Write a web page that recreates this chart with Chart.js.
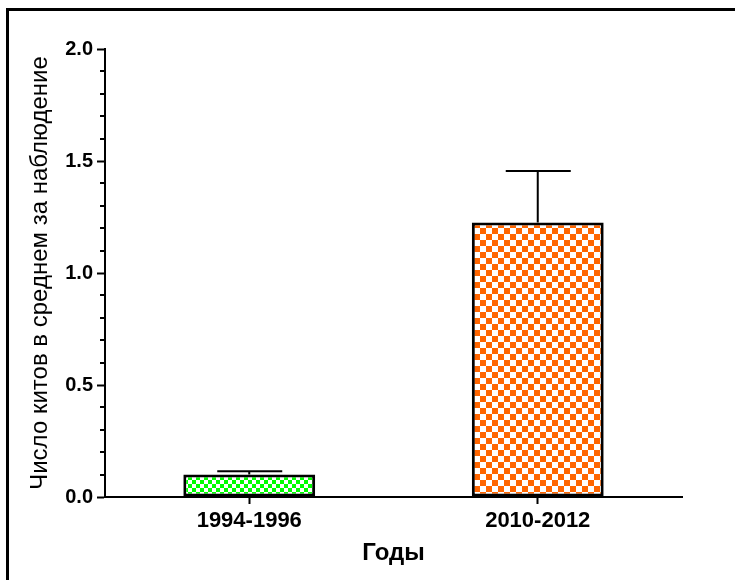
<!DOCTYPE html>
<html>
<head>
<meta charset="utf-8">
<script src="https://cdn.jsdelivr.net/npm/chart.js@4.4.0/dist/chart.umd.min.js"></script>
<style>
    html, body { margin: 0; padding: 0; background: #fff; }
    #wrap { width: 735px; height: 580px; }
</style>
</head>
<body>
<div id="wrap"><canvas id="whaleChart" width="735" height="580"></canvas></div>
<script>
// Data
const periods = ['1994-1996', '2010-2012'];
const meanWhales = [0.1, 1.225];
const upperError = [0.115, 1.455];
const yTickLabels = ['0.0', '0.5', '1.0', '1.5', '2.0'];

const FONT = "'Liberation Sans', Arial, sans-serif";

// checkerboard fill for the bars
function checker(color, cell) {
    const c = document.createElement('canvas');
    c.width = cell * 2;
    c.height = cell * 2;
    const g = c.getContext('2d');
    g.fillStyle = '#ffffff';
    g.fillRect(0, 0, cell * 2, cell * 2);
    g.fillStyle = color;
    g.fillRect(0, 0, cell, cell);
    g.fillRect(cell, cell, cell, cell);
    return g.createPattern(c, 'repeat');
}

const frame = {
    id: 'frame',
    beforeDraw(chart) {
        const ctx = chart.ctx;
        ctx.save();
        ctx.fillStyle = '#fff';
        ctx.fillRect(0, 0, chart.width, chart.height);
        ctx.strokeStyle = '#000';
        ctx.lineWidth = 3;
        ctx.strokeRect(7.5, 9.5, chart.width + 20, chart.height + 20);
        ctx.restore();
    }
};

// minor ticks on y axis (every 0.1 without a label)
const minorTicks = {
    id: 'minorTicks',
    afterDraw(chart) {
        const y = chart.scales.y;
        const ctx = chart.ctx;
        ctx.save();
        ctx.strokeStyle = '#000';
        ctx.lineWidth = 2;
        y.ticks.forEach((t, i) => {
            if (t.label !== '') return;
            const py = Math.round(y.getPixelForTick(i));
            ctx.beginPath();
            ctx.moveTo(y.right - 5, py);
            ctx.lineTo(y.right, py);
            ctx.stroke();
        });
        ctx.restore();
    }
};

const errorBars = {
    id: 'errorBars',
    afterDatasetsDraw(chart) {
        const ctx = chart.ctx;
        const y = chart.scales.y;
        const meta = chart.getDatasetMeta(0);
        ctx.save();
        ctx.strokeStyle = '#000';
        ctx.lineWidth = 2;
        meta.data.forEach((bar, i) => {
            const top = y.getPixelForValue(upperError[i]);
            ctx.beginPath();
            ctx.moveTo(bar.x, bar.y);
            ctx.lineTo(bar.x, top);
            ctx.moveTo(bar.x - 32, top);
            ctx.lineTo(bar.x + 33, top);
            ctx.stroke();
        });
        ctx.restore();
    }
};

new Chart(document.getElementById('whaleChart'), {
    type: 'bar',
    data: {
        labels: periods,
        datasets: [{
            data: meanWhales,
            backgroundColor: [checker('#00ff00', 4), checker('#ff6600', 6)],
            borderColor: '#000',
            borderWidth: 3,
            borderSkipped: false,
            categoryPercentage: 1,
            barPercentage: 0.457
        }]
    },
    options: {
        responsive: false,
        animation: false,
        layout: { padding: { top: 49, right: 53, left: 0, bottom: 0 } },
        plugins: {
            legend: { display: false },
            tooltip: { enabled: false }
        },
        scales: {
            x: {
                grid: {
                    drawOnChartArea: false,
                    offset: false,
                    tickLength: 7,
                    tickWidth: 2,
                    tickColor: '#000'
                },
                border: { color: '#000', width: 2 },
                ticks: {
                    color: '#000',
                    padding: 4,
                    font: { family: FONT, size: 22, weight: 'bold' }
                },
                title: {
                    display: true,
                    text: 'Годы',
                    color: '#000',
                    font: { family: FONT, size: 24, weight: 'bold' },
                    padding: { top: 2, bottom: 12 }
                },
                afterFit: function(scale) { scale.height = 83; }
            },
            y: {
                min: 0,
                max: 2,
                grid: {
                    drawOnChartArea: false,
                    tickLength: 8,
                    tickWidth: 2,
                    tickColor: function(ctx) {
                        return ctx.tick && ctx.tick.label !== '' ? '#000' : 'rgba(0,0,0,0)';
                    }
                },
                border: { color: '#000', width: 2 },
                ticks: {
                    stepSize: 0.1,
                    autoSkip: false,
                    color: '#000',
                    padding: 4,
                    font: { family: FONT, size: 20, weight: 'bold' },
                    callback: function(value) {
                        const s = value.toFixed(1);
                        return yTickLabels.includes(s) ? s : '';
                    }
                },
                title: {
                    display: true,
                    text: 'Число китов в среднем за наблюдение',
                    color: '#000',
                    font: { family: FONT, size: 24 },
                    padding: { top: 26, bottom: 0 }
                },
                afterFit: function(scale) { scale.width = 105; }
            }
        }
    },
    plugins: [frame, minorTicks, errorBars]
});
</script>
</body>
</html>
